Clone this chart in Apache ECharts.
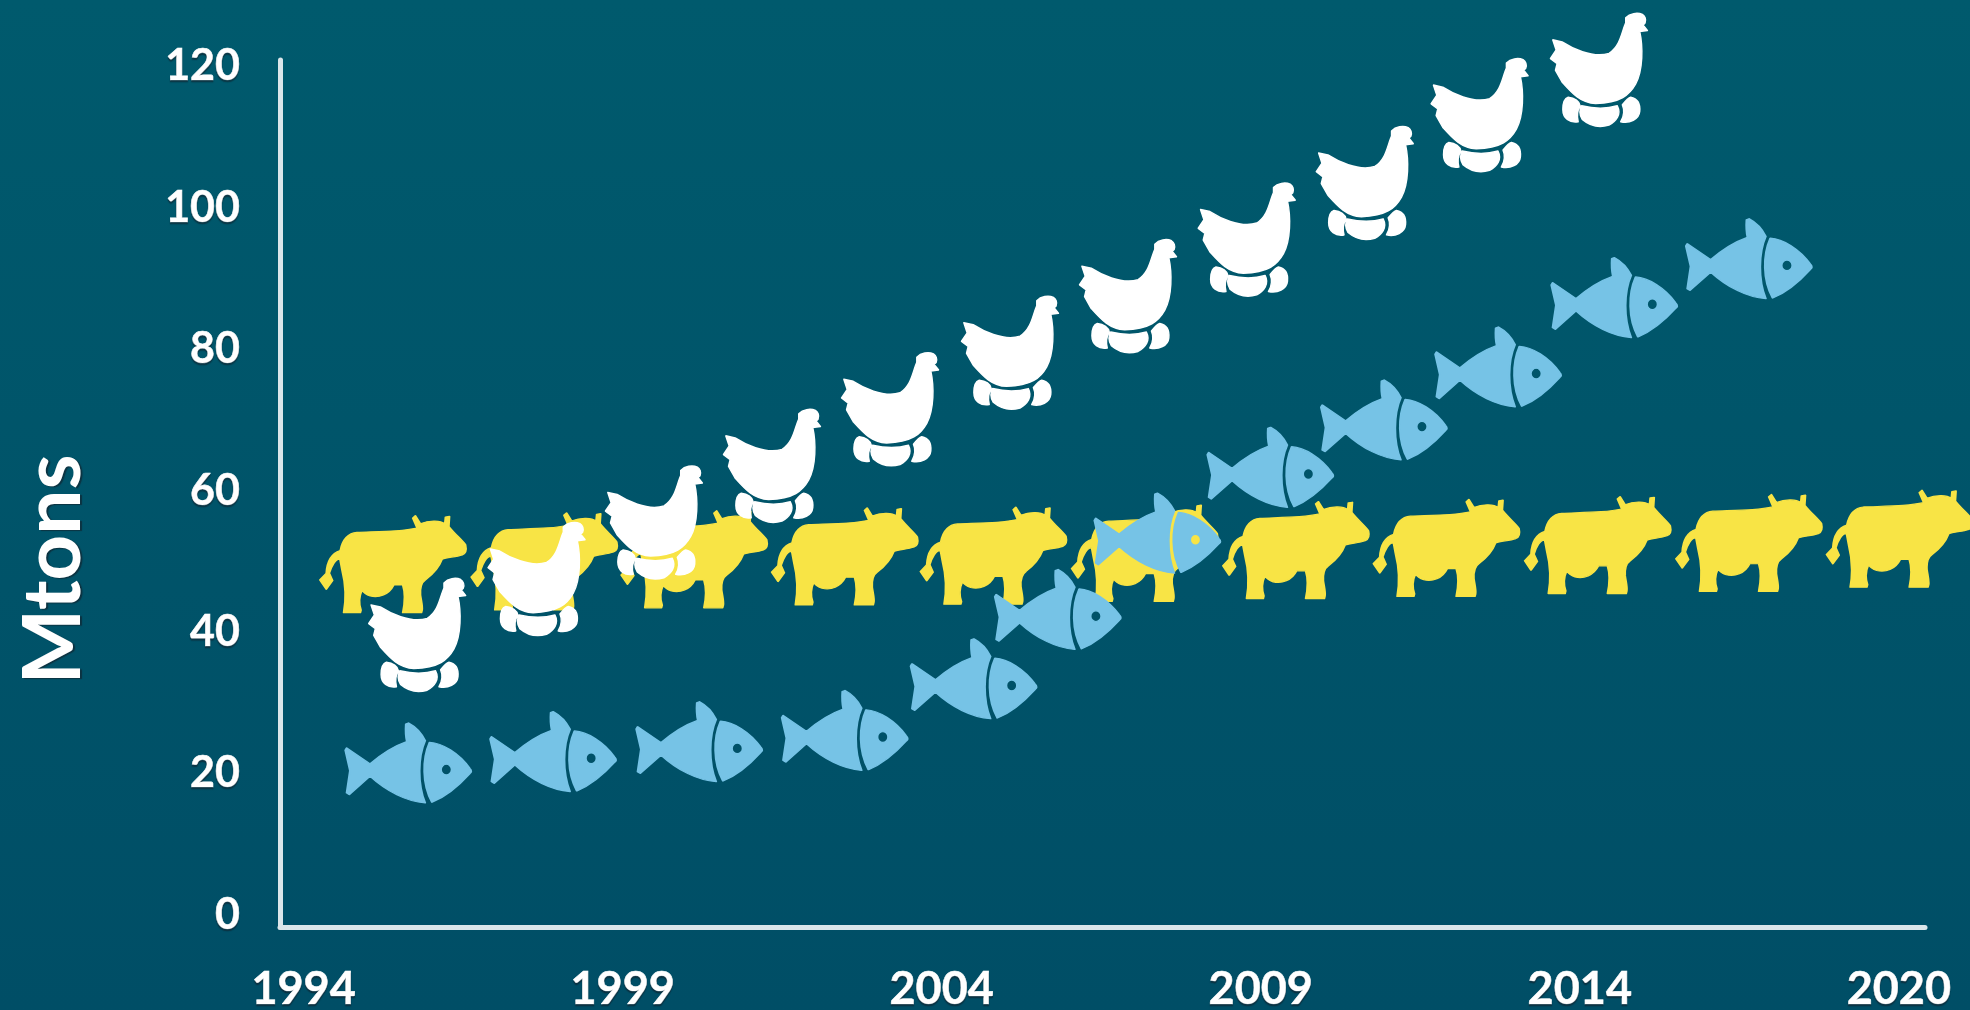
<!DOCTYPE html>
<html>
<head>
<meta charset="utf-8">
<style>
  html, body { margin: 0; padding: 0; background: #00536a; }
  #chart-container { width: 1970px; height: 1010px; }
</style>
<script src="https://cdn.jsdelivr.net/npm/echarts@6/dist/echarts.min.js"></script>
</head>
<body>
<div id="chart-container"></div>
<script>
// values, x is in axis years, y in Mtons
var cowYears = [1995.40, 1997.77, 2000.12, 2002.48, 2004.81, 2007.18, 2009.55, 2011.91, 2014.28, 2016.65, 2019.01];
var cowValues = [49.6, 50.0, 50.3, 50.7, 50.8, 51.2, 51.6, 51.9, 52.3, 52.6, 53.2];
var fishYears = [1995.64, 1997.91, 2000.20, 2002.48, 2004.50, 2005.82, 2007.38, 2009.15, 2010.93, 2012.72, 2014.54, 2016.65];
var fishValues = [21.5, 23.1, 24.5, 26.1, 33.4, 43.2, 54.0, 63.3, 70.0, 77.5, 87.3, 92.8];
var chickenYears = [1995.78, 1997.65, 1999.49, 2001.34, 2003.19, 2005.07, 2006.92, 2008.78, 2010.63, 2012.43, 2014.30];
var chickenValues = [39.6, 47.5, 55.5, 63.5, 71.5, 79.5, 87.5, 95.5, 103.5, 113.1, 119.5];

var yTicks = [0, 20, 40, 60, 80, 100, 120];
var xTicks = [1994, 1999, 2004, 2009, 2014, 2019];
// the last tick sits one regular step on, but the picture labels it 2020
var xTickLabels = ['1994', '1999', '2004', '2009', '2014', '2020'];

var COW = 'path://M75 122C82 88 100 70 125 68C200 65 260 65 305 55L292 25L300 18L315 42' +
  'C345 30 375 33 388 42L390 22L402 20L400 50C420 75 440 90 450 105C454 122 448 132 440 135' +
  'C420 142 395 142 380 148C370 175 350 195 330 210C315 220 314 240 315 255C318 275 322 290 320 300' +
  'L318 308L262 308C268 280 270 250 262 225L235 225C220 255 190 264 165 258C152 254 145 248 140 240' +
  'C130 262 130 280 137 300L135 308L85 308C92 270 90 220 80 180L74 148' +
  'C60 146 48 170 42 190L52 212L33 238L14 210L33 190C35 155 50 130 75 122Z';

var CHICKEN = 'path://M250 45C262 32 285 28 300 35C308 40 312 50 308 60L302 66L315 82L292 85' +
  'C302 130 302 200 280 240C262 272 235 296 160 298C115 296 90 268 60 235L40 200L45 180L25 165L42 140L32 110' +
  'L60 116C85 132 150 166 200 150C235 128 238 85 250 60Z' +
  'M78 280C98 282 112 292 114 305C106 318 104 336 108 352C82 356 62 342 62 316C62 298 66 284 78 280Z' +
  'M118 305C155 314 195 314 225 305C238 330 222 350 200 362C165 372 140 362 120 345C110 328 112 318 118 305Z' +
  'M240 302C250 290 258 282 265 280C285 284 294 300 292 322C290 345 262 358 235 352C246 335 246 315 240 302Z';

var FISH = 'path://M20 97L90 145C125 115 160 92 200 78C196 60 196 40 197 25L205 22C228 34 245 55 255 75' +
  'C233 125 232 205 255 262C200 258 140 228 90 182L28 237L20 232L30 165L16 104Z' +
  'M268 80C305 82 355 112 388 158C394 165 394 170 388 174C360 205 318 243 275 260C245 205 246 130 268 80Z' +
  'M318 146A16 16 0 1 0 318 178A16 16 0 1 0 318 146Z';

function points(xs, ys) {
  return xs.map(function (x, i) { return [x, ys[i]]; });
}

function iconSeries(name, xs, ys, symbol, size, color, z) {
  return {
    name: name,
    type: 'scatter',
    data: points(xs, ys),
    symbol: symbol,
    symbolSize: size,
    z: z,
    clip: false,
    silent: true,
    itemStyle: {
      color: color,
      opacity: 1,
      borderColor: color,
      borderWidth: 1.5,
      borderJoin: 'round'
    }
  };
}

var labelStyle = {
  color: '#ffffff',
  fontFamily: 'Lato',
  fontWeight: 'bold',
  fontSize: 43,
  textBorderColor: '#ffffff',
  textBorderWidth: 0.6,
  textShadowColor: 'rgba(20,30,40,0.5)',
  textShadowBlur: 1,
  textShadowOffsetY: 2
};

var myChart = echarts.init(document.getElementById('chart-container'), null, { renderer: 'canvas' });

var option = {
  animation: false,
  backgroundColor: new echarts.graphic.LinearGradient(0, 0, 0, 1, [
    { offset: 0, color: '#005a6d' },
    { offset: 1, color: '#004e66' }
  ]),
  grid: { left: 280, right: 45, top: 60, bottom: 83, outerBoundsMode: 'none' },
  xAxis: {
    type: 'value',
    min: 1993.63,
    max: 2019.41,
    splitLine: { show: false },
    axisTick: { show: false },
    axisLine: { onZero: false, lineStyle: { color: '#dbe6ea', width: 5 } },
    axisLabel: Object.assign({}, labelStyle, {
      fontSize: 45,
      margin: 40,
      customValues: xTicks,
      formatter: function (v) { return xTickLabels[xTicks.indexOf(v)]; }
    })
  },
  yAxis: {
    type: 'value',
    min: -1.7,
    max: 120.9,
    name: 'Mtons',
    nameLocation: 'middle',
    nameRotate: 90,
    nameGap: 186,
    nameTextStyle: {
      color: '#ffffff',
      fontFamily: 'Lato',
      fontWeight: 'bold',
      fontSize: 80,
      padding: [0, 152, 0, 0],
      textShadowColor: 'rgba(20,30,40,0.6)',
      textShadowBlur: 1,
      textShadowOffsetX: 2,
      textShadowOffsetY: 1
    },
    splitLine: { show: false },
    axisTick: { show: false },
    axisLine: { show: true, onZero: false, lineStyle: { color: '#dbe6ea', width: 5 } },
    axisLabel: Object.assign({}, labelStyle, {
      margin: 40,
      customValues: yTicks
    })
  },
  series: [
    iconSeries('Cow', cowYears, cowValues, COW, [146, 97], '#f8e445', 2),
    iconSeries('Fish', fishYears, fishValues, FISH, [126, 80], '#76c3e6', 3),
    iconSeries('Chicken', chickenYears, chickenValues, CHICKEN, [97, 113], '#ffffff', 4)
  ]
};

myChart.setOption(option);
</script>
</body>
</html>
